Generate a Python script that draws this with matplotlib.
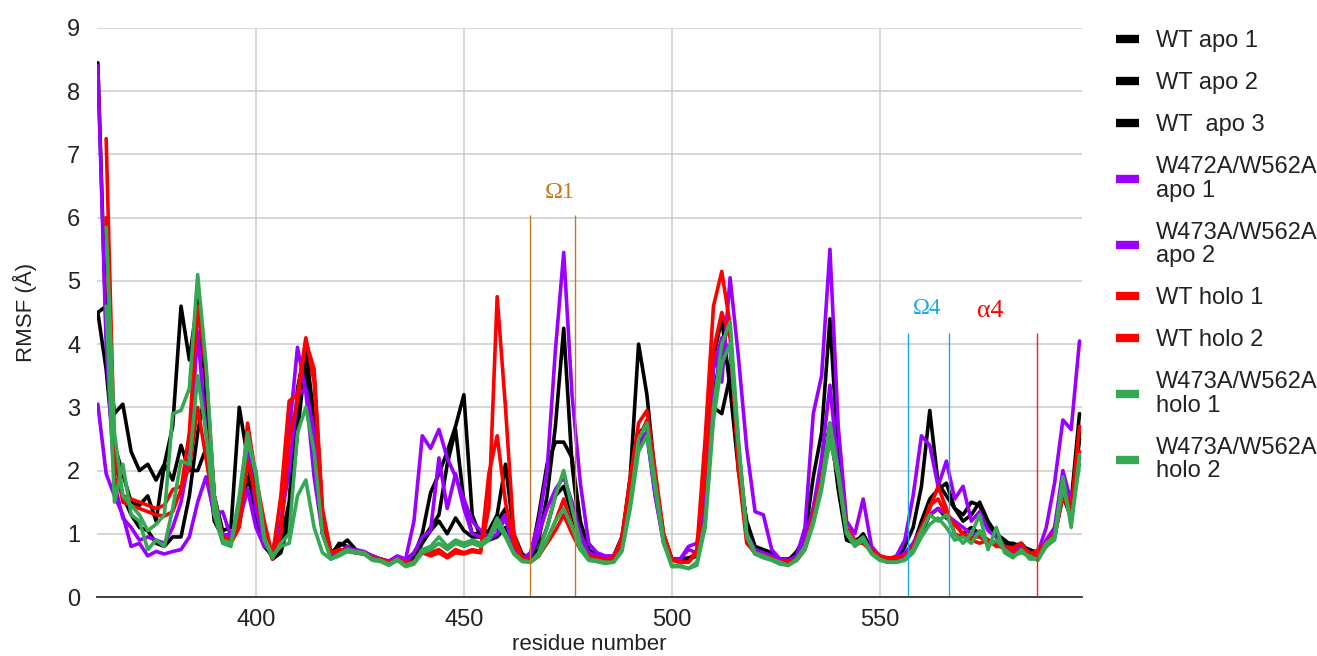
import numpy as np
import matplotlib
matplotlib.use("Agg")
import matplotlib.pyplot as plt

plt.rcParams['font.family'] = ['Liberation Sans', 'DejaVu Sans']

nan = float('nan')

# residue numbers (every second residue, 362..598)
residues = list(range(362, 599, 2))

wt_apo_1 = [
    8.45, 4.2, 2.9, 3.05, 2.3, 2.0, 2.1, 1.85, 2.1, 2.7,
    4.6, 3.75, 4.7, 3.3, 1.6, 1.05, 1.1, 3.0, 2.2, 1.2,
    0.8, 0.65, 0.9, 1.5, 3.3, 3.95, 2.8, 1.0, 0.65, 0.85,
    0.8, 0.72, 0.7, 0.62, 0.6, 0.56, 0.62, 0.55, 0.65, 1.0,
    1.65, 1.95, 2.3, 2.7, 3.2, 1.3, 0.95, 0.9, 0.95, 1.1,
    0.75, 0.65, 0.62, 0.9, 1.6, 2.7, 4.25, 2.1, 0.95, 0.7,
    0.62, 0.6, 0.62, 0.9, 1.9, 4.0, 3.2, 1.9, 1.0, 0.6,
    0.55, 0.6, 0.7, 1.5, 3.8, 4.4, 3.3, 2.0, 1.2, 0.8,
    0.75, 0.7, 0.6, 0.58, 0.72, 0.95, 1.9, 2.6, 4.4, 2.2,
    1.0, 0.85, 1.0, 0.75, 0.6, 0.55, 0.55, 0.8, 1.1, 1.75,
    2.95, 1.8, 1.6, 1.4, 1.3, 1.5, 1.45, 1.1, 0.95, 0.85,
    0.85, 0.8, 0.75, 0.7, 0.85, 1.0, 1.9, 1.5, 2.9,
]
wt_apo_2 = [
    4.5, 4.6, 2.4, 1.95, 1.5, 1.45, 1.6, 1.2, 2.1, 1.85,
    2.4, 2.0, 2.0, 2.35, 1.2, 0.95, 1.0, 1.2, 2.2, 1.8,
    1.0, 0.6, 0.7, 1.2, 2.6, 3.8, 3.5, 1.3, 0.7, 0.8,
    0.9, 0.75, 0.7, 0.65, 0.6, 0.55, 0.6, 0.58, 0.7, 0.9,
    1.1, 1.3, 2.1, 2.65, 1.5, 1.0, 1.0, 1.05, 1.3, 2.1,
    1.0, 0.68, 0.6, 1.3, 2.1, 2.45, 2.45, 2.2, 1.2, 0.75,
    0.65, 0.62, 0.65, 0.95, 1.8, 2.6, 2.7, 1.7, 0.9, 0.6,
    0.6, 0.62, 0.65, 1.3, 3.0, 2.9, 3.5, 2.3, 1.1, 0.75,
    0.7, 0.68, 0.6, 0.6, 0.65, 0.85, 1.4, 2.0, 2.7, 1.8,
    0.95, 0.9, 0.95, 0.7, 0.6, 0.58, 0.6, 0.7, 0.8, 1.2,
    1.55, 1.7, 1.8, 1.4, 1.2, 1.3, 1.5, 1.2, 1.0, 0.9,
    0.8, 0.85, 0.7, 0.72, 0.8, 0.95, 1.7, 1.3, 2.5,
]
wt_apo_3 = [
    4.5, 3.6, 2.2, 1.6, 1.3, 1.1, 1.05, 0.85, 0.8, 0.95,
    0.95, 1.6, 2.6, 3.3, 1.4, 0.9, 0.95, 1.15, 1.9, 1.4,
    0.85, 0.62, 0.75, 1.4, 3.1, 3.6, 2.4, 1.1, 0.65, 0.7,
    0.75, 0.7, 0.68, 0.62, 0.6, 0.55, 0.6, 0.55, 0.6, 0.85,
    1.05, 1.2, 1.0, 1.25, 1.05, 0.95, 0.95, 1.0, 1.2, 1.4,
    0.8, 0.62, 0.6, 0.75, 1.1, 1.6, 1.75, 1.3, 0.9, 0.7,
    0.6, 0.6, 0.62, 0.85, 1.6, 2.4, 2.6, 1.8, 0.95, 0.6,
    0.58, 0.6, 0.65, 1.2, 3.2, 3.9, 3.6, 2.2, 1.0, 0.7,
    0.68, 0.65, 0.58, 0.56, 0.6, 0.8, 1.3, 1.9, 2.75, 1.7,
    0.9, 0.85, 0.9, 0.72, 0.6, 0.55, 0.58, 0.65, 0.75, 1.0,
    1.3, 1.4, 1.25, 1.15, 1.0, 1.1, 1.0, 0.9, 0.85, 0.8,
    0.78, 0.8, 0.72, 0.7, 0.8, 0.95, 1.6, 1.25, 2.6,
]
mut_apo_1 = [
    8.4, 4.0, 1.8, 1.25, 1.1, 0.9, 0.95, 0.9, 0.85, 1.1,
    1.5, 2.2, 4.2, 2.6, 1.3, 1.0, 0.95, 1.3, 2.4, 1.4,
    0.85, 0.7, 1.1, 2.6, 3.95, 3.25, 1.9, 1.0, 0.65, 0.7,
    0.75, 0.75, 0.72, 0.65, 0.6, 0.57, 0.65, 0.6, 1.2, 2.55,
    2.35, 2.65, 2.2, 1.9, 1.55, 1.2, 1.05, 0.95, 1.1, 1.3,
    0.7, 0.6, 0.7, 1.2, 2.0, 3.9, 5.45, 3.2, 1.8, 0.85,
    0.7, 0.65, 0.65, 0.85, 1.6, 2.5, 2.6, 1.6, 0.9, 0.6,
    0.6, 0.8, 0.85, 1.6, 3.9, 3.4, 5.05, 3.8, 2.35, 1.35,
    1.3, 0.75, 0.6, 0.58, 0.65, 1.1, 2.9, 3.5, 5.5, 2.7,
    1.2, 1.0, 1.55, 0.8, 0.65, 0.6, 0.65, 0.9, 1.6, 2.55,
    2.4, 1.75, 2.15, 1.55, 1.75, 1.2, 1.35, 1.05, 0.95, 0.8,
    0.75, 0.8, 0.7, 0.7, 1.1, 1.8, 2.8, 2.65, 4.05,
]
mut_apo_2 = [
    3.05, 1.95, 1.6, 1.3, 0.8, 0.85, 0.65, 0.72, 0.68, 0.72,
    0.75, 0.95, 1.5, 1.9, 1.3, 1.35, 0.95, 1.2, 1.7, 1.1,
    0.8, 0.75, 1.2, 2.0, 3.2, 3.3, 2.6, 1.3, 0.7, 0.7,
    0.8, 0.72, 0.7, 0.62, 0.58, 0.55, 0.62, 0.55, 0.7, 0.95,
    1.05, 2.2, 1.4, 1.95, 1.4, 1.0, 0.95, 0.9, 1.0, 1.25,
    0.75, 0.62, 0.65, 1.0, 1.4, 1.7, 1.9, 1.5, 1.0, 0.7,
    0.65, 0.62, 0.65, 0.9, 1.6, 2.4, 2.55, 1.6, 0.85, 0.58,
    0.6, 0.75, 0.7, 1.4, 3.6, 4.1, 3.9, 2.4, 1.0, 0.75,
    0.7, 0.65, 0.58, 0.56, 0.62, 0.9, 1.4, 2.2, 3.35, 2.0,
    1.0, 0.85, 0.9, 0.7, 0.6, 0.55, 0.6, 0.7, 0.85, 1.1,
    1.3, 1.4, 1.3, 1.2, 1.1, 1.0, 1.0, 0.9, 0.85, 0.8,
    0.75, 0.75, 0.7, 0.65, 0.9, 1.1, 2.0, 1.5, 2.2,
]
wt_holo_1 = [
    nan, 7.25, 2.3, 1.5, 1.45, 1.4, 1.35, 1.3, 1.28, 1.35,
    1.7, 2.6, 4.6, 3.6, 1.6, 0.95, 0.9, 1.2, 2.75, 1.9,
    1.2, 0.65, 1.6, 3.1, 3.2, 4.1, 3.4, 1.3, 0.7, 0.72,
    0.75, 0.72, 0.7, 0.62, 0.6, 0.55, 0.6, 0.55, 0.55, 0.75,
    0.7, 0.75, 0.65, 0.75, 0.7, 0.75, 0.72, 1.4, 4.75, 3.0,
    1.0, 0.62, 0.55, 0.65, 0.9, 1.2, 1.55, 1.1, 0.8, 0.65,
    0.6, 0.58, 0.6, 0.95, 1.9, 2.75, 2.95, 2.0, 1.0, 0.6,
    0.55, 0.55, 0.75, 2.5, 4.6, 5.15, 4.3, 2.0, 0.85, 0.7,
    0.65, 0.6, 0.55, 0.55, 0.6, 0.8, 1.3, 1.9, 2.6, 2.0,
    1.1, 0.9, 0.85, 0.75, 0.65, 0.62, 0.62, 0.65, 0.8, 1.1,
    1.4, 1.75, 1.4, 1.0, 0.95, 0.9, 0.85, 0.9, 0.8, 0.8,
    0.78, 0.85, 0.65, 0.75, 0.85, 1.0, 1.75, 1.4, 2.7,
]
wt_holo_2 = [
    nan, 6.0, 1.9, 1.6, 1.55, 1.5, 1.45, 1.4, 1.45, 1.7,
    1.75, 2.05, 3.0, 2.2, 1.4, 0.95, 0.85, 1.1, 2.15, 1.6,
    1.0, 0.6, 1.0, 2.5, 3.1, 4.05, 3.6, 1.4, 0.7, 0.75,
    0.72, 0.7, 0.68, 0.6, 0.58, 0.53, 0.58, 0.52, 0.55, 0.7,
    0.65, 0.7, 0.62, 0.7, 0.68, 0.72, 0.7, 1.95, 2.55, 1.5,
    0.85, 0.62, 0.58, 0.65, 0.85, 1.05, 1.3, 1.0, 0.75, 0.65,
    0.62, 0.6, 0.62, 0.9, 1.7, 2.5, 2.8, 1.9, 0.95, 0.58,
    0.55, 0.55, 0.7, 2.0, 3.9, 4.5, 4.1, 2.1, 0.9, 0.68,
    0.65, 0.62, 0.55, 0.55, 0.58, 0.75, 1.2, 1.8, 2.5, 1.9,
    1.05, 0.85, 0.85, 0.72, 0.62, 0.6, 0.6, 0.62, 0.75, 1.0,
    1.45, 1.55, 1.3, 1.15, 1.0, 0.95, 0.95, 0.85, 0.85, 0.75,
    0.7, 0.75, 0.7, 0.65, 0.8, 0.95, 1.6, 1.3, 2.3,
]
mut_holo_1 = [
    nan, 5.85, 2.6, 1.6, 1.45, 1.3, 1.05, 1.15, 1.3, 2.9,
    2.95, 3.3, 5.1, 3.7, 1.6, 0.9, 0.85, 1.6, 2.6, 1.9,
    0.9, 0.62, 0.85, 1.0, 2.6, 3.0, 2.3, 1.0, 0.6, 0.68,
    0.75, 0.72, 0.7, 0.6, 0.58, 0.52, 0.6, 0.5, 0.55, 0.75,
    0.8, 0.95, 0.8, 0.9, 0.85, 0.9, 0.85, 0.95, 1.25, 1.0,
    0.7, 0.58, 0.55, 0.7, 1.1, 1.6, 2.0, 1.4, 0.85, 0.6,
    0.58, 0.55, 0.55, 0.75, 1.5, 2.5, 2.75, 1.8, 0.9, 0.5,
    0.5, 0.45, 0.55, 1.2, 3.0, 4.0, 4.35, 2.5, 1.0, 0.7,
    0.65, 0.6, 0.55, 0.5, 0.6, 0.8, 1.2, 1.8, 2.75, 2.0,
    1.05, 0.85, 0.95, 0.7, 0.6, 0.55, 0.55, 0.6, 0.75, 1.05,
    1.3, 1.2, 1.3, 1.0, 0.85, 1.0, 1.3, 0.75, 1.1, 0.7,
    0.62, 0.75, 0.6, 0.6, 0.85, 0.95, 1.9, 1.1, 2.25,
]
mut_holo_2 = [
    nan, 4.6, 1.5, 2.1, 1.3, 1.2, 0.75, 0.9, 0.8, 1.4,
    2.15, 2.1, 3.5, 2.6, 1.3, 0.85, 0.8, 1.5, 2.45, 2.0,
    0.95, 0.65, 0.8, 0.85, 1.6, 1.85, 1.1, 0.7, 0.6, 0.65,
    0.72, 0.7, 0.68, 0.58, 0.56, 0.5, 0.58, 0.48, 0.52, 0.7,
    0.75, 0.85, 0.75, 0.85, 0.8, 0.85, 0.8, 0.9, 1.15, 0.95,
    0.68, 0.56, 0.55, 0.65, 0.9, 1.2, 1.4, 1.1, 0.75, 0.58,
    0.56, 0.53, 0.55, 0.72, 1.4, 2.3, 2.55, 1.7, 0.85, 0.48,
    0.48, 0.45, 0.5, 1.1, 2.8, 3.7, 4.0, 2.4, 0.95, 0.68,
    0.62, 0.58, 0.52, 0.5, 0.58, 0.75, 1.15, 1.7, 2.5, 1.9,
    1.0, 0.8, 0.9, 0.68, 0.58, 0.55, 0.55, 0.58, 0.7, 0.95,
    1.15, 1.25, 1.1, 0.9, 0.95, 0.85, 1.05, 0.8, 0.9, 0.75,
    0.65, 0.7, 0.65, 0.58, 0.8, 0.9, 1.75, 1.2, 2.1,
]

series_labels = [
    'WT apo 1', 'WT apo 2', 'WT  apo 3',
    'W472A/W562A\napo 1', 'W473A/W562A\napo 2',
    'WT holo 1', 'WT holo 2',
    'W473A/W562A\nholo 1', 'W473A/W562A\nholo 2',
]
series_values = [wt_apo_1, wt_apo_2, wt_apo_3, mut_apo_1, mut_apo_2,
                 wt_holo_1, wt_holo_2, mut_holo_1, mut_holo_2]
series_colors = ['#000000', '#000000', '#000000', '#9900ff', '#9900ff',
                 '#ff0000', '#ff0000', '#34a853', '#34a853']

# region markers
omega1_bounds = [465.9, 476.7]
omega4_bounds = [556.8, 566.6]
alpha4_bound = [587.7]

fig = plt.figure(figsize=(13.17, 6.56), dpi=100)
ax = fig.add_axes([97 / 1317, 59 / 656, (1082 - 97) / 1317, (597 - 28) / 656])

for vals, lab, col in zip(series_values, series_labels, series_colors):
    ax.plot(residues, vals, color=col, lw=2.6, label=lab,
            solid_joinstyle='round', solid_capstyle='round')

serif = ['Liberation Serif', 'DejaVu Serif']
ax.vlines(omega1_bounds, 0, 6.05, color='#c8781e', lw=1.0)
ax.vlines(omega4_bounds, 0, 4.17, color='#1ba9e6', lw=1.0)
ax.vlines(alpha4_bound, 0, 4.17, color='#ff1a1a', lw=1.0)
ax.text(473.0, 6.4, 'Ω1', color='#c8781e', fontsize=17.5,
        family=serif, ha='center', va='center')
ax.text(561.4, 4.56, 'Ω4', color='#1ba9e6', fontsize=16.5,
        family=serif, ha='center', va='center')
ax.text(576.6, 4.52, 'α4', color='#ff0000', fontsize=18.5,
        family=serif, ha='center', va='center')

ax.set_xlim(361.8, 598.6)
ax.set_ylim(0, 9)
ax.set_xticks([400, 450, 500, 550])
ax.set_yticks(range(0, 10))
ax.grid(True, color='#cccccc', lw=1.1)
ax.set_axisbelow(True)
for s in ['top', 'right', 'left']:
    ax.spines[s].set_visible(False)
ax.spines['bottom'].set_color('#333333')
ax.spines['bottom'].set_linewidth(1.3)
ax.tick_params(axis='both', length=0, labelsize=17, labelcolor='#222222')
ax.tick_params(axis='y', pad=12)
ax.tick_params(axis='x', pad=9)
ax.set_xlabel('residue number', fontsize=16, color='#222222', labelpad=2)
ax.set_ylabel('RMSF (Å)', fontsize=16, color='#222222', labelpad=22)

leg = ax.legend(loc='upper left', bbox_to_anchor=(1116 / 1317, 1 - 30 / 656),
                bbox_transform=fig.transFigure, frameon=False, fontsize=17,
                handlelength=0.97, handletextpad=0.72, labelspacing=0.85,
                borderpad=0, borderaxespad=0)
for h in leg.legend_handles:
    h.set_linewidth(6)
    h.set_solid_capstyle('butt')
for t in leg.get_texts():
    t.set_color('#222222')
    t.set_linespacing(1.08)

fig.savefig('out.png', dpi=100)
